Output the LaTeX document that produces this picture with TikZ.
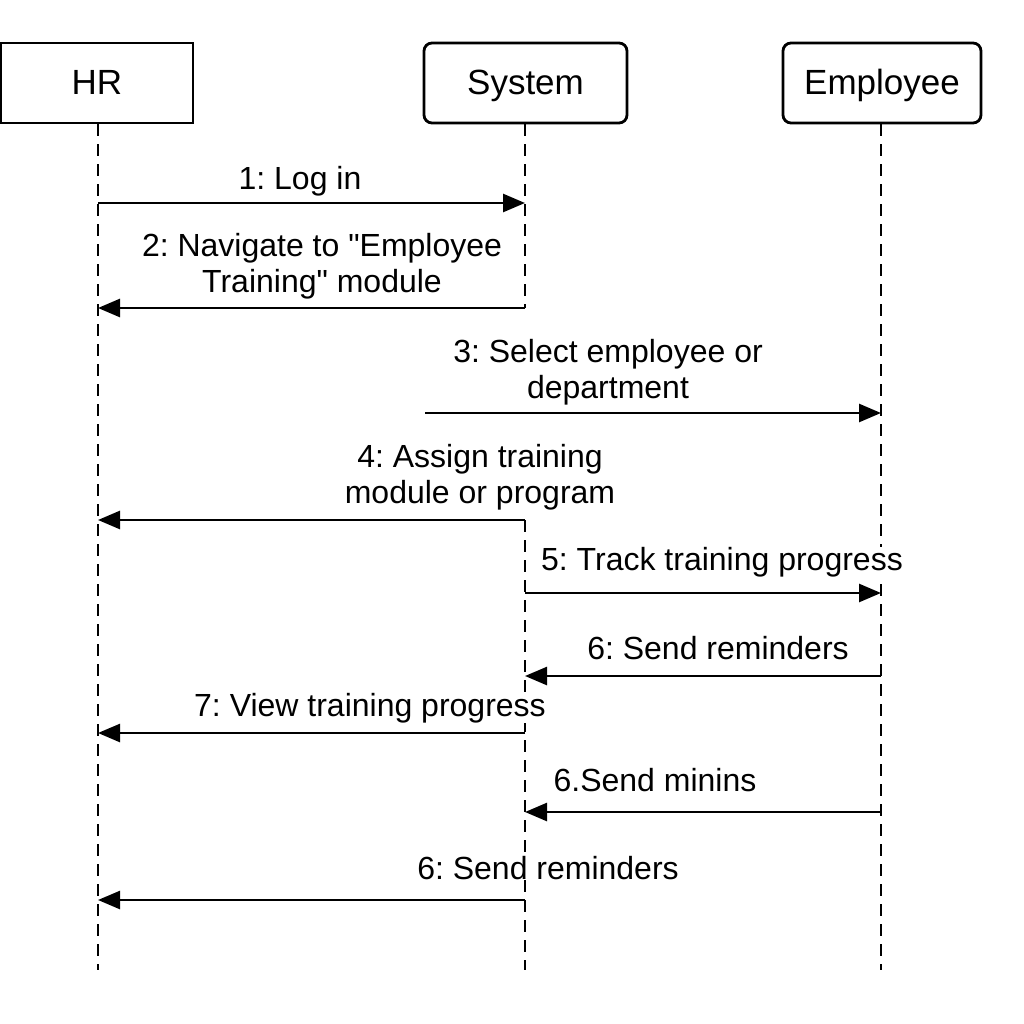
\documentclass[tikz,border=0pt]{standalone}
\usepackage{fontspec}
\setmainfont{Liberation Sans}[Ligatures=TeXOff]
\usetikzlibrary{arrows.meta}
\frenchspacing
\begin{document}
\begin{tikzpicture}[x=1pt,y=-1pt,
  actor/.style={draw,line width=2.8pt,minimum width=193pt,minimum height=80pt,inner sep=0pt,text height=25pt,text depth=1pt,font=\fontsize{35}{40}\selectfont},
  ractor/.style={actor,rounded corners=8pt},
  life/.style={line width=2.3pt,dash pattern=on 12pt off 8pt},
  msg/.style={line width=2.6pt,-{Triangle[length=22pt,width=18pt]}},
  lbl/.style={align=center,inner sep=0pt,fill=white,font=\fontsize{32}{35.5}\selectfont}]
\useasboundingbox[fill=white] (0,0) rectangle (1024,1024);
% actors
\node[actor,minimum width=192pt] (hr) at (97,83) {HR};
\node[ractor,minimum width=203pt] (sys) at (525.5,83) {System};
\node[ractor,minimum width=198pt] (emp) at (882,83) {Employee};
% message points
\coordinate (h1) at (98,203);  \coordinate (s1) at (525,203);
\coordinate (h2) at (98,308);  \coordinate (s2) at (525,308);
\coordinate (x3) at (425,413); \coordinate (e3) at (881,413);
\coordinate (h4) at (98,520);  \coordinate (s4) at (525,520);
\coordinate (s5) at (525,593); \coordinate (e5) at (881,593);
\coordinate (s6) at (525,676); \coordinate (e6) at (881,676);
\coordinate (h7) at (98,733);  \coordinate (s7) at (525,733);
\coordinate (s8) at (525,812); \coordinate (e8) at (881,812);
\coordinate (h9) at (98,900);  \coordinate (s9) at (525,900);
% lifeline ends
\coordinate (hrE) at (98,970);
\coordinate (sysE) at (525,970);
\coordinate (empE) at (881,970);
\draw[life] (hr.south -| hrE) -- (hrE);
\draw[life] (sys.south -| sysE) -- (s2);
\draw[life] (s4) -- (sysE);
\draw[life] (emp.south -| empE) -- (empE);
% labels
\node[lbl] (l1) at (300,181) {1: Log in};
\node[lbl] (l2) at (322,266) {2: Navigate to "Employee\\Training" module};
\node[lbl] (l3) at (608,372) {3: Select employee or\\department};
\node[lbl] (l4) at (480,477) {4: Assign training\\module or program};
\node[lbl] (l5) at (722,562) {5: Track training progress};
\node[lbl] (l6) at (718,648) {6: Send reminders};
\node[lbl] (l7) at (370,708) {7: View training progress};
\node[lbl] (l8) at (655,780) {6.Send minins};
\node[lbl] (l9) at (548,868) {6: Send reminders};
% messages
\draw[msg] (h1) -- (s1);
\draw[msg] (s2) -- (h2);
\draw[msg] (x3) -- (e3);
\draw[msg] (s4) -- (h4);
\draw[msg] (s5) -- (e5);
\draw[msg] (e6) -- (s6);
\draw[msg] (s7) -- (h7);
\draw[msg] (e8) -- (s8);
\draw[msg] (s9) -- (h9);
\end{tikzpicture}
\end{document}
